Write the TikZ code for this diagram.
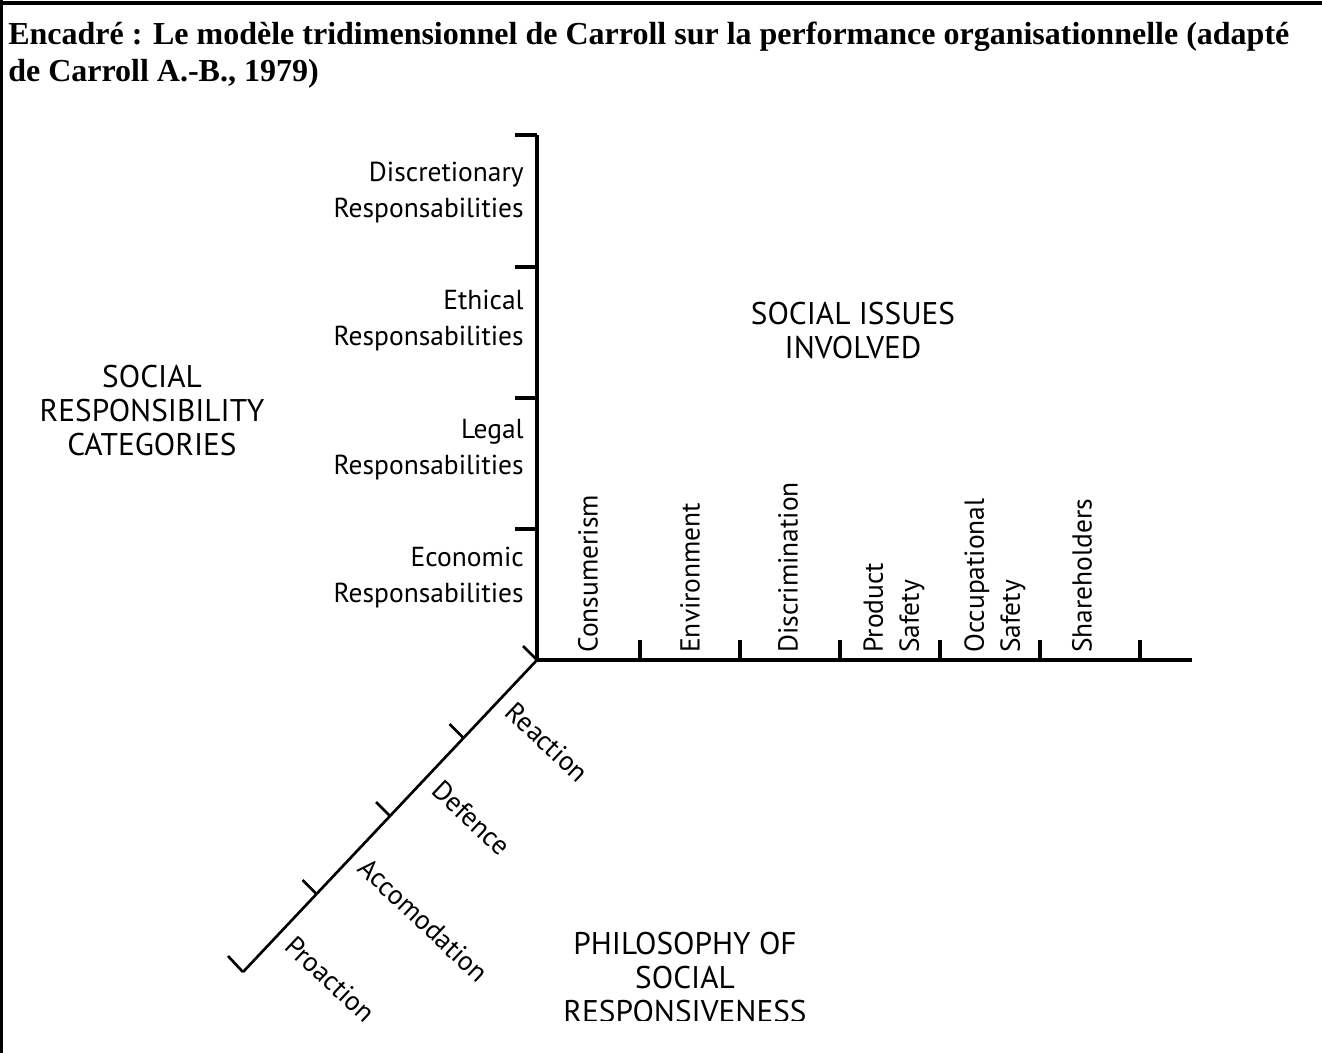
\documentclass[tikz,border=0pt]{standalone}
\usepackage{fontspec}
\setmainfont{Liberation Serif}
\newfontfamily\axisfont{PT Sans}
\usetikzlibrary{calc}
\tikzset{
  frame/.style={black,line width=2.4pt},
  axis/.style={black,line width=3.4pt},
  slant/.style={black,line width=2pt},
  titletext/.style={font=\bfseries\fontsize{24}{28}\selectfont,anchor=base west,inner sep=0pt},
  cat/.style={font=\axisfont\fontsize{20.6}{27}\selectfont,align=right,anchor=east,inner sep=0pt},
  issue/.style={font=\axisfont\fontsize{20.6}{27}\selectfont,align=left,anchor=west,rotate=90,inner sep=0pt},
  mode/.style={font=\axisfont\fontsize{20.6}{27}\selectfont,anchor=west,rotate=-43.3,inner sep=0pt},
  heading/.style={font=\axisfont\fontsize{23.5}{25.5}\selectfont,align=center,inner sep=0pt},
}
\begin{document}
\begin{tikzpicture}[x=0.75pt,y=-0.75pt]
  \path[use as bounding box] (0,0) rectangle (1322,1053);
  % frame of the box
  \draw[frame] (0,3) -- (1322,3);
  \draw[frame] (1.5,0) -- (1.5,1053);
  \node[titletext] (title1) at (8,44)
    {Encadré : Le modèle tridimensionnel de Carroll sur la performance organisationnelle (adapté};
  \node[titletext] (title2) at (8,81) {de Carroll A.-B., 1979)};

  % the three axes
  \coordinate (O) at (537,660);
  \coordinate (V) at (537,135);
  \coordinate (H) at (1192,660);
  \coordinate (D) at (243,972);
  \draw[axis] (V) -- (O) -- (H);
  \draw[slant] (O) -- (D);

  % ticks
  \draw[axis] (V) -- ++(-22,0);
  \draw[axis] (537,267) -- ++(-22,0);
  \draw[axis] (537,398) -- ++(-22,0);
  \draw[axis] (537,529) -- ++(-22,0);
  \draw[axis] (640,660) -- ++(0,-20);
  \draw[axis] (740,660) -- ++(0,-20);
  \draw[axis] (840,660) -- ++(0,-20);
  \draw[axis] (940,660) -- ++(0,-20);
  \draw[axis] (1040,660) -- ++(0,-20);
  \draw[axis] (1140,660) -- ++(0,-20);
  \draw[slant] (O) -- ++(-14,-14);
  \draw[slant] ($(O)!0.25!(D)$) -- ++(-14,-14);
  \draw[slant] ($(O)!0.5!(D)$) -- ++(-14,-14);
  \draw[slant] ($(O)!0.75!(D)$) -- ++(-14,-14);
  \draw[slant] (D) -- ++(-15,-16);

  % responsibility categories
  \node[cat] (discr) at (524,193) {Discretionary\\Responsabilities};
  \node[cat] (ethic) at (524,321) {Ethical\\Responsabilities};
  \node[cat] (legal) at (524,450) {Legal\\Responsabilities};
  \node[cat] (econ)  at (524,578) {Economic\\Responsabilities};

  % social issues
  \node[issue] (consum) at (588,653) {Consumerism};
  \node[issue] (envir)  at (690,653) {Environment};
  \node[issue] (discri) at (788,653) {Discrimination};
  \node[issue] (prod)   at (894,653) {Product\\Safety};
  \node[issue] (occup)  at (995,653) {Occupational\\Safety};
  \node[issue] (share)  at (1082,653) {Shareholders};

  % philosophy of responsiveness
  \node[mode] (react) at ($($(O)!0.125!(D)$)+(10,8)$) {Reaction};
  \node[mode] (defen) at ($($(O)!0.375!(D)$)+(10,8)$) {Defence};
  \node[mode] (accom) at ($($(O)!0.625!(D)$)+(10,8)$) {Accomodation};
  \node[mode] (proac) at ($($(O)!0.875!(D)$)+(10,8)$) {Proaction};

  % axis headings
  \node[heading] (issues) at (853,331) {SOCIAL ISSUES\\INVOLVED};
  \node[heading] (cats) at (152,411) {SOCIAL\\RESPONSIBILITY\\CATEGORIES};
  \begin{scope}
    \clip (0,0) rectangle (1322,1020);
    \node[heading] (philo) at (685,978) {PHILOSOPHY OF\\SOCIAL\\RESPONSIVENESS};
  \end{scope}
\end{tikzpicture}
\end{document}
